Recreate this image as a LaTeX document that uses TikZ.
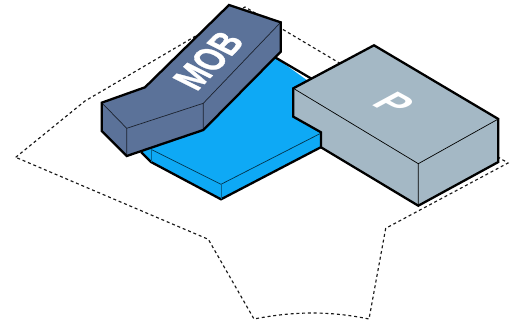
\documentclass[tikz,border=0pt]{standalone}
\usepackage{fontspec}
\setmainfont{Liberation Sans}
\newfontfamily\lblfont[FakeBold=1]{Liberation Sans Bold}
\definecolor{podium}{HTML}{0EA9F5}
\definecolor{mobc}{HTML}{5B7299}
\definecolor{pc}{HTML}{A4B8C5}
\tikzset{
  site/.style={draw=black!90,line width=1.15pt,dash pattern=on 3pt off 2.8pt},
  mass/.style={draw=black,line width=2.3pt,line join=miter},
  edge/.style={draw=black,line width=0.7pt},
  lbl/.style={text=white,font=\lblfont\fontsize{10}{10}\selectfont,inner sep=0pt},
  lblp/.style={text=white,font=\bfseries\fontsize{10}{10}\selectfont,inner sep=0pt}
}
\begin{document}
\begin{tikzpicture}[x=1pt,y=-1pt]
\useasboundingbox (0,0) rectangle (526,323);
\fill[white] (0,0) rectangle (526,323);
% site
\draw[site] (15.7,157.3) -- (85,101) -- (245,7) -- (508,163) -- (385.7,228.3) -- (369,319)
  .. controls (330,311) and (295,311) .. (254,319) -- (208.3,239.3) -- cycle;
% podium
\fill[podium] (141,152) -- (151,162) -- (221,199.3) -- (320.7,147.3) -- (320.7,90) -- (275,57.3) -- (180,60) -- cycle;
\draw[mass] (141,152) -- (151,162) -- (221,199.3) -- (320.7,147.3);
\draw[mass] (275,57.3) -- (312,79);
\draw[edge,draw=black!70!podium] (151,149.3) -- (221,184.3) -- (320.7,133.3);
\draw[edge,draw=black!40!podium] (151,149.3) -- (151,162) (221,184.3) -- (221,199.3);
% MOB
\fill[mobc] (101.7,102.7) -- (145,87.3) -- (229,5) -- (280.7,22.3) -- (280.7,51.7) -- (203.3,130) -- (126.7,156) -- (101.7,131) -- cycle;
\draw[edge,draw=black!70!mobc] (101.7,102.7) -- (126.7,128.3) -- (203.3,103.3) -- (280.7,22.3)
  (203.3,103.3) -- (203.3,130) (126.7,128.3) -- (126.7,156);
\draw[mass] (101.7,102.7) -- (145,87.3) -- (229,5) -- (280.7,22.3) -- (280.7,51.7) -- (203.3,130) -- (126.7,156) -- (101.7,131) -- cycle;
\node[lbl,cm={2.1,2.15,-3.7,1.85,(0,0)}] (mob) at (208.5,60.5) {MOB};
% P
\fill[pc] (293.3,88.3) -- (374,45.3) -- (498.3,119) -- (498.3,162) -- (418.3,205.7) -- (321,147.3) -- (321,132.3) -- (293.3,116.7) -- cycle;
\draw[edge] (293.3,88.3) -- (418.3,163.7) -- (498.3,119) (418.3,163.7) -- (418.3,205.7);
\draw[mass] (293.3,88.3) -- (374,45.3) -- (498.3,119) -- (498.3,162) -- (418.3,205.7) -- (321,147.3) -- (321,132.3) -- (293.3,116.7) -- cycle;
\node[lblp,cm={3.3,-1.8,3.7,2.0,(0,0)}] (p) at (394,103.5) {P};
\end{tikzpicture}
\end{document}
